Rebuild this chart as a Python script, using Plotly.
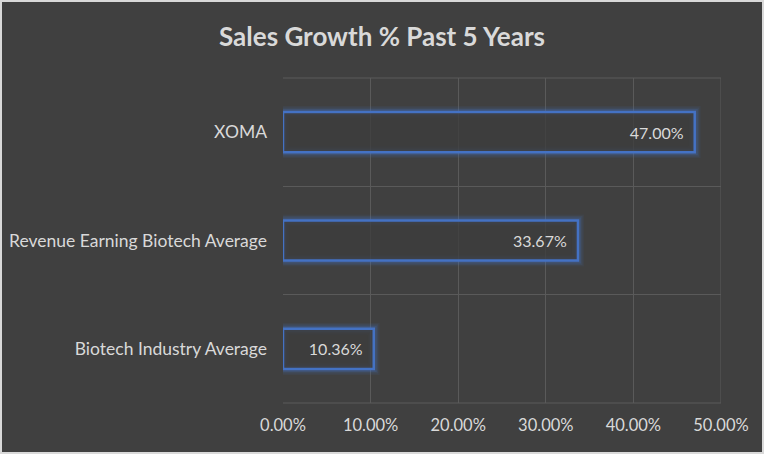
import plotly.graph_objects as go

# Chart data
categories = ['XOMA', 'Revenue Earning Biotech Average', 'Biotech Industry Average']
growth = [0.47, 0.3367, 0.1036]
x_ticks = [0, 0.1, 0.2, 0.3, 0.4, 0.5]

bg = '#404040'
blue = '#4472C4'
txt = '#D9D9D9'
grid = '#5A5A5A'

W, H = 764, 454
ml, mr, mt, mb = 283, 43, 78, 51
pw, ph = W - ml - mr, H - mt - mb

fig = go.Figure()

# soft glow layers behind the outlined bars
for lw, alpha in [(12, 0.08), (9, 0.13), (6, 0.22)]:
    fig.add_trace(go.Bar(
        y=categories, x=growth, orientation='h', width=0.37,
        marker=dict(color='rgba(0,0,0,0)', line=dict(color=f'rgba(68,114,196,{alpha})', width=lw)),
        hoverinfo='skip', showlegend=False))

fig.add_trace(go.Bar(
    y=categories, x=growth, orientation='h', width=0.37,
    marker=dict(color='rgba(60,60,60,0.75)', line=dict(color=blue, width=2.5)),
    texttemplate='%{x:.2%}\u00a0\u00a0', textposition='inside', insidetextanchor='end',
    textfont=dict(color=txt, size=16, family='Lato'),
    showlegend=False))

fig.update_layout(
    width=W, height=H, barmode='overlay',
    paper_bgcolor=bg, plot_bgcolor=bg,
    margin=dict(l=ml, r=mr, t=mt, b=mb, autoexpand=False),
    font=dict(family='Lato', color=txt, size=16),
    title=dict(text='<b>Sales Growth % Past 5 Years</b>', x=0.5, xref='container', xanchor='center',
               y=1 - 37 / H, yanchor='middle', font=dict(size=26, color=txt, family='Lato')),
)

fig.update_xaxes(range=[0, 0.5], tickvals=x_ticks, tickformat='.2%', showgrid=True,
                 gridcolor=grid, gridwidth=1, zeroline=False, showline=False, automargin=False,
                 ticks='', ticklabelstandoff=10, tickfont=dict(size=16.5, color=txt))
fig.update_yaxes(categoryorder='array', categoryarray=categories[::-1], tickson='boundaries',
                 showgrid=True, gridcolor=grid, gridwidth=1, zeroline=False, showline=False,
                 automargin=False, ticks='', ticklabelstandoff=15, tickfont=dict(size=17.5, color=txt))

# edge gridlines: right at 50%, top and bottom of the plot area
fig.add_shape(type='line', xref='x', yref='paper', x0=0.5, x1=0.5, y0=0, y1=1,
              line=dict(color=grid, width=1), layer='below')
for yy in [0, 1]:
    fig.add_shape(type='line', xref='paper', yref='paper', x0=0, x1=1, y0=yy, y1=yy,
                  line=dict(color=grid, width=1), layer='below')

# outer light border of the chart area
fig.add_shape(type='rect', xref='paper', yref='paper',
              x0=(-ml + 1) / pw, x1=1 + (mr - 1) / pw,
              y0=(-mb + 1) / ph, y1=1 + (mt - 1) / ph,
              line=dict(color='#D9D9D9', width=2))

fig.write_html('out.html', config={'displayModeBar': False},
               post_script="document.body.style.margin='0';")
